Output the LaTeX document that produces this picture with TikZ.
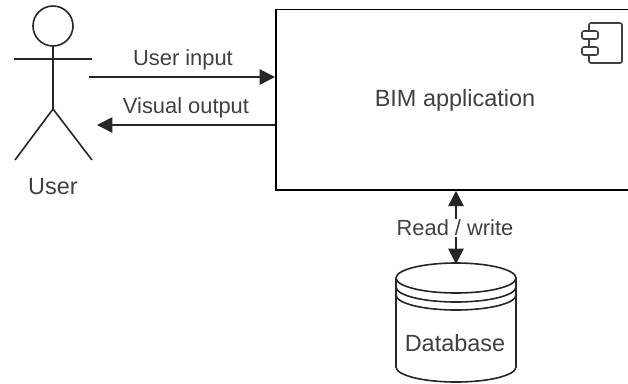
\documentclass[tikz,border=0pt]{standalone}
\usepackage{fontspec}
\setmainfont{Liberation Sans}
\usetikzlibrary{arrows.meta}
\tikzset{
  line/.style={draw=black!85,line width=1.2pt},
  tip/.style={Triangle[length=11.5pt,width=11.5pt]},
  conn/.style={line,-{Triangle[length=11.5pt,width=11.5pt]}},
  lbl/.style={font=\fontsize{16.4pt}{18pt}\selectfont,text=black!75,inner sep=1pt},
  lblbig/.style={font=\fontsize{17.6pt}{20pt}\selectfont,text=black!75,inner sep=1pt},
}
\begin{document}
\begin{tikzpicture}[x=0.75pt,y=-0.75pt]
\useasboundingbox (0,0) rectangle (628,383);
% actor
\node[line,circle,minimum size=30pt,inner sep=0pt] (head) at (53,26) {};
\coordinate (hip) at (53,109);
\coordinate (armL) at (14,59);
\coordinate (armR) at (92,59);
\coordinate (footL) at (15,160);
\coordinate (footR) at (92,160);
\draw[line] (head.south) -- (hip);
\draw[line] (armL) -- (armR);
\draw[line] (footL) -- (hip) -- (footR);
\node[lblbig] (user) at (53,187) {User};
% application
\node[draw=black,line width=1.3pt,minimum width=268pt,minimum height=135.4pt,inner sep=0pt,anchor=north west] (app) at (275,8.5) {};
\node[lblbig] (applabel) at (455,100) {BIM application};
\draw[line,rounded corners=1.5pt,draw=black!75] (589,31) -- (589,23) -- (622,23) -- (622,63) -- (589,63) -- (589,55)
  (589,39) -- (589,47)
  (582,31) rectangle (598,39)
  (582,47) rectangle (598,55);
% connectors
\coordinate (inS) at (89,77);
\coordinate (inE) at (275,77);
\coordinate (outS) at (275,125);
\coordinate (outE) at (97,125);
\draw[conn] (inS) -- (inE);
\draw[conn] (outS) -- (outE);
\node[lbl] (l1) at (183,60) {User input};
\node[lbl] (l2) at (186,108) {Visual output};
% database
\node[minimum width=90pt,minimum height=89pt,inner sep=0pt,anchor=north] (db) at (456,264) {};
\draw[line,fill=white] (396,278) arc[x radius=60,y radius=15,start angle=180,end angle=360] -- (516,367)
  arc[x radius=60,y radius=15,start angle=0,end angle=180] -- cycle;
\draw[line] (396,278) arc[x radius=60,y radius=15,start angle=180,end angle=0];
\draw[line] (396,287) arc[x radius=60,y radius=15,start angle=180,end angle=0];
\draw[line] (396,295) arc[x radius=60,y radius=15,start angle=180,end angle=0];
\node[lblbig] (dbl) at (455,343) {Database};
% read/write
\draw[conn,{Triangle[length=11.5pt,width=11.5pt]}-{Triangle[length=11.5pt,width=11.5pt]}] (app.south -| db.north) -- (db.north);
\node[lbl,fill=white] (l3) at (455,228) {Read / write};
\end{tikzpicture}
\end{document}
